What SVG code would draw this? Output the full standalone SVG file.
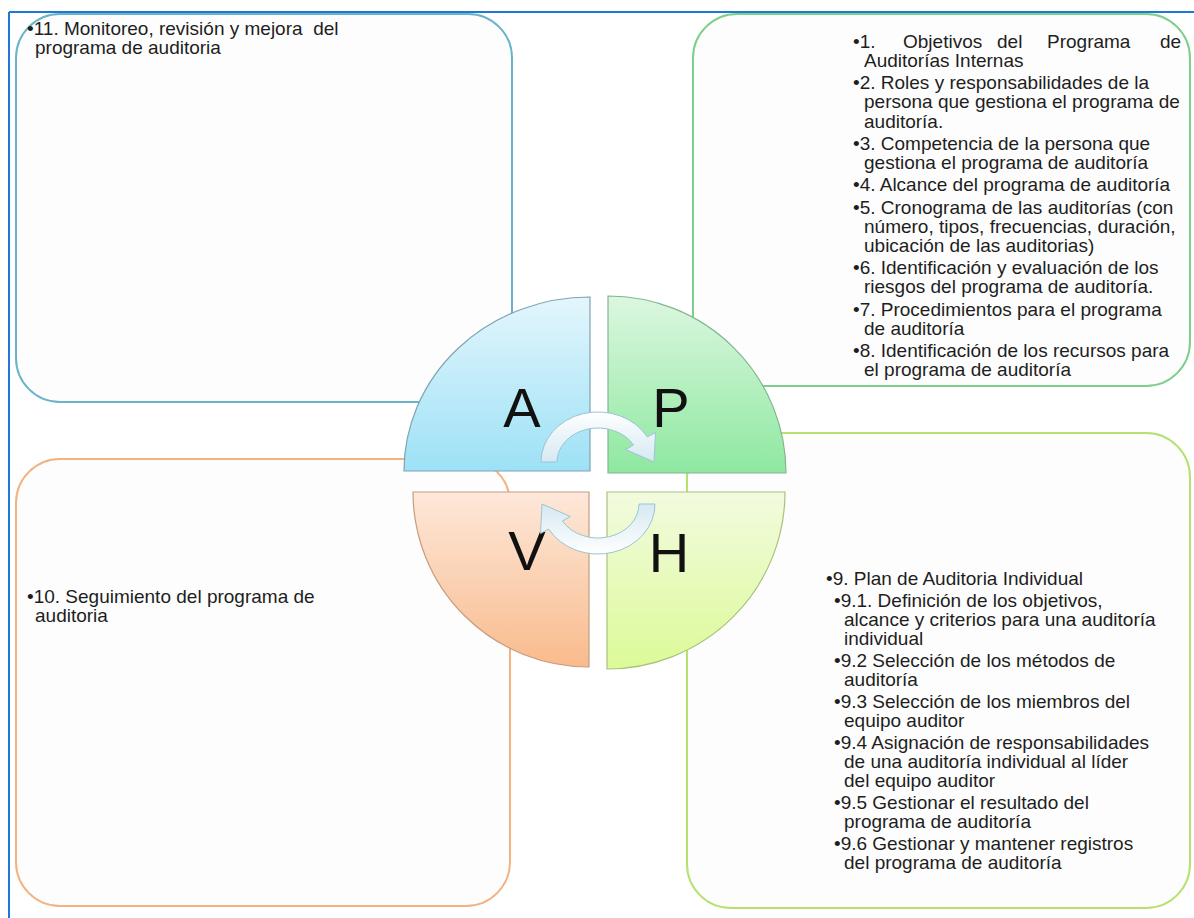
<svg xmlns="http://www.w3.org/2000/svg" width="1194" height="918" viewBox="0 0 1194 918">
<style>
.box{fill:#fdfdfd;stroke-width:2}
.t{font-family:"Liberation Sans",Arial,sans-serif;font-size:19px;fill:#1e1e1e;white-space:pre}
.big{font-family:"Liberation Sans",Arial,sans-serif;font-size:56px;fill:#111;text-anchor:middle}
.arrow{fill:url(#gArr);stroke:#9dc3d3;stroke-width:1}
.q{stroke-width:1.2}
</style>
<defs>
<linearGradient id="gA" x1="0" y1="0" x2="0" y2="1"><stop offset="0" stop-color="#e3f6fc"/><stop offset="1" stop-color="#9de1f6"/></linearGradient>
<linearGradient id="gP" x1="0" y1="0" x2="0" y2="1"><stop offset="0" stop-color="#dcf7e0"/><stop offset="1" stop-color="#8ee8a0"/></linearGradient>
<linearGradient id="gV" x1="0" y1="0" x2="0" y2="1"><stop offset="0" stop-color="#fde8da"/><stop offset="1" stop-color="#f9bb8c"/></linearGradient>
<linearGradient id="gH" x1="0" y1="0" x2="0" y2="1"><stop offset="0" stop-color="#f2fbdf"/><stop offset="1" stop-color="#dcfa98"/></linearGradient>
<linearGradient id="gArr" x1="0" y1="0" x2="0" y2="1"><stop offset="0" stop-color="#ffffff"/><stop offset="1" stop-color="#d5e9f2"/></linearGradient>
</defs>
<rect width="1194" height="918" fill="#ffffff"/>
<g id="frame" stroke="#1f78d1" stroke-width="2" fill="none">
<line x1="9" y1="12" x2="1194" y2="12"/>
<line x1="9" y1="12" x2="9" y2="918"/>
</g>
<g id="box-actuar">
<rect class="box" x="16" y="14" width="496" height="388" rx="44" stroke="#6ab4c9"/>
<text class="t" x="27" y="35">•11. Monitoreo, revisión y mejora  del</text>
<text class="t" x="35" y="54">programa de auditoria</text>
</g>
<g id="box-planificar">
<rect class="box" x="693" y="14" width="497" height="372" rx="44" stroke="#7dcf8c"/>
<text class="t" y="48"><tspan x="853">•1.</tspan><tspan x="903">Objetivos</tspan><tspan x="997">del</tspan><tspan x="1047">Programa</tspan><tspan x="1160">de</tspan></text>
<text class="t" x="864" y="67">Auditorías Internas</text>
<text class="t" x="853" y="89">•2. Roles y responsabilidades de la</text>
<text class="t" x="864" y="108">persona que gestiona el programa de</text>
<text class="t" x="864" y="128">auditoría.</text>
<text class="t" x="853" y="150">•3. Competencia de la persona que</text>
<text class="t" x="864" y="169">gestiona el programa de auditoría</text>
<text class="t" x="853" y="191">•4. Alcance del programa de auditoría</text>
<text class="t" x="853" y="214">•5. Cronograma de las auditorías (con</text>
<text class="t" x="864" y="233">número, tipos, frecuencias, duración,</text>
<text class="t" x="864" y="252">ubicación de las auditorias)</text>
<text class="t" x="853" y="274">•6. Identificación y evaluación de los</text>
<text class="t" x="864" y="293">riesgos del programa de auditoría.</text>
<text class="t" x="853" y="316">•7. Procedimientos para el programa</text>
<text class="t" x="864" y="335">de auditoría</text>
<text class="t" x="853" y="357">•8. Identificación de los recursos para</text>
<text class="t" x="864" y="376">el programa de auditoría</text>
</g>
<g id="box-hacer">
<rect class="box" x="687" y="433" width="503" height="475" rx="44" stroke="#b6e16f"/>
<text class="t" x="826" y="585">•9. Plan de Auditoria Individual</text>
<text class="t" x="834" y="607">•9.1. Definición de los objetivos,</text>
<text class="t" x="844" y="626">alcance y criterios para una auditoría</text>
<text class="t" x="844" y="645">individual</text>
<text class="t" x="834" y="667">•9.2 Selección de los métodos de</text>
<text class="t" x="844" y="686">auditoría</text>
<text class="t" x="834" y="708">•9.3 Selección de los miembros del</text>
<text class="t" x="844" y="727">equipo auditor</text>
<text class="t" x="834" y="749">•9.4 Asignación de responsabilidades</text>
<text class="t" x="844" y="768">de una auditoría individual al líder</text>
<text class="t" x="844" y="787">del equipo auditor</text>
<text class="t" x="834" y="809">•9.5 Gestionar el resultado del</text>
<text class="t" x="844" y="828">programa de auditoría</text>
<text class="t" x="834" y="850">•9.6 Gestionar y mantener registros</text>
<text class="t" x="844" y="869">del programa de auditoría</text>
</g>
<g id="box-verificar">
<rect class="box" x="16" y="459" width="494" height="447" rx="44" stroke="#f3b282"/>
<text class="t" x="27" y="603">•10. Seguimiento del programa de</text>
<text class="t" x="35" y="622">auditoria</text>
</g>
<g id="quad-A">
<path class="q" d="M590,471 L404,471 A186,174 0 0 1 590,297 Z" fill="url(#gA)" stroke="#7fa3b1"/>
<text class="big" x="522" y="427">A</text>
</g>
<g id="quad-P">
<path class="q" d="M608,473 L608,296 A178,177 0 0 1 786,473 Z" fill="url(#gP)" stroke="#82b68d"/>
<text class="big" x="671" y="427">P</text>
</g>
<g id="quad-V">
<path class="q" d="M589,492 L589,667 A176,175 0 0 1 413,492 Z" fill="url(#gV)" stroke="#c59c82"/>
<text class="big" x="527" y="570">V</text>
</g>
<g id="quad-H">
<path class="q" d="M607,492 L785,492 A178,177 0 0 1 607,669 Z" fill="url(#gH)" stroke="#a9c27c"/>
<text class="big" x="669" y="572">H</text>
</g>
<g id="connectors">
<path class="arrow" d="M541,462 A57,50 0 0 1 647.4,437 L655.5,432.5 L654,462 L625.7,449.5 L633.5,445 A41,34 0 0 0 557,462 Z"/>
<path class="arrow" transform="rotate(180 598 483)" d="M541,462 A57,50 0 0 1 647.4,437 L655.5,432.5 L654,462 L625.7,449.5 L633.5,445 A41,34 0 0 0 557,462 Z"/>
</g>
</svg>
